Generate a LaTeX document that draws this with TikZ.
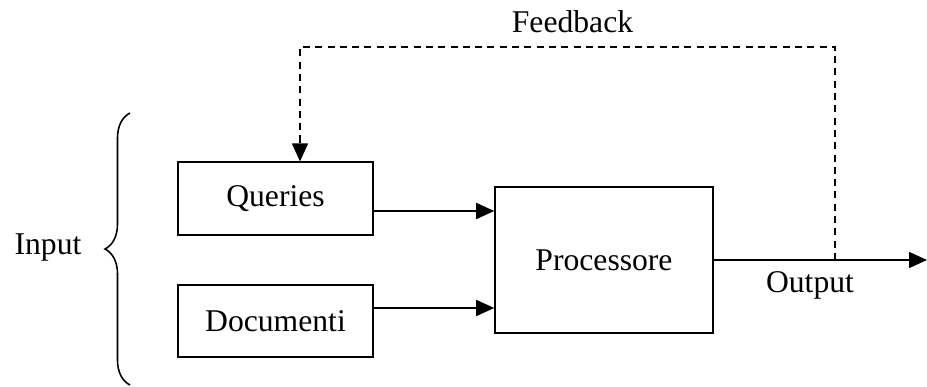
\documentclass[tikz,border=0pt]{standalone}
\usepackage{fontspec}
\setmainfont{Liberation Serif}
\usetikzlibrary{arrows.meta,positioning,decorations.pathreplacing}

\begin{document}
\begin{tikzpicture}[>={Triangle[length=0.36cm,width=0.32cm]}, line width=0.9pt,
   font=\fontsize{18}{20}\selectfont, on grid, node distance=2.45cm,
   block/.style={rectangle, draw, minimum width=3.9cm, minimum height=1.45cm}]
   \useasboundingbox (0,0) rectangle (18.54,-7.74);

   \node[block] (q) at (5.51,-3.97) {Queries};
   \node[block] (d) [below=of q]    {Documenti};
   \node[rectangle, draw, minimum width=4.36cm, minimum height=2.92cm] (p) at (12.08,-5.2) {Processore};

   \node (in)  at (0.96,-4.96) {Input};
   \node (fbl) at (11.45,-0.44) {Feedback};
   \node (ol)  at (16.2,-5.7)  {Output};

   \coordinate (pq)   at ([yshift=0.98cm]p.west);
   \coordinate (pd)   at ([yshift=-0.96cm]p.west);
   \coordinate (out)  at (18.54,-5.2);
   \coordinate (fb)   at (16.7,-5.2);
   \coordinate (top)  at (6.0,-0.94);
   \coordinate (btop) at (2.6,-2.26);
   \coordinate (bbot) at (2.6,-7.7);

   \draw[->] (q.east |- pq) -- (pq);
   \draw[->] (d.east |- pd) -- (pd);
   \draw[->] (p.east) -- (out);
   \draw[->, dash pattern=on 4pt off 3pt] (fb) |- (top) -- (top |- q.north);

   % brace round the two inputs
   \draw[decorate, decoration={brace, amplitude=0.5cm}] (bbot) -- (btop);
\end{tikzpicture}
\end{document}
